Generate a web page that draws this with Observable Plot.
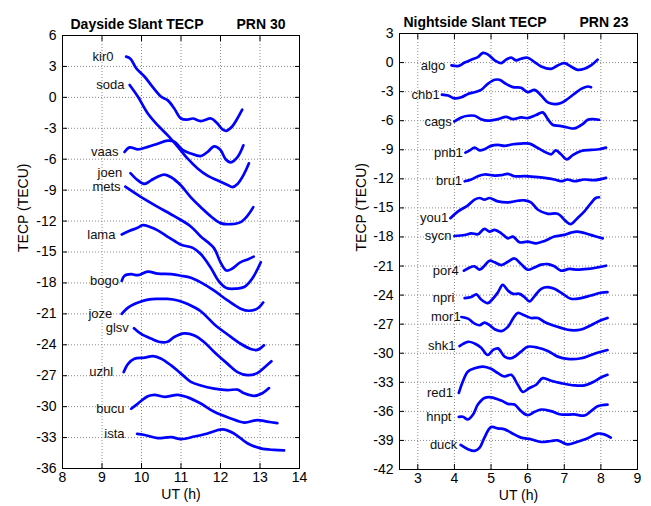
<!DOCTYPE html>
<html><head><meta charset="utf-8">
<script src="https://cdn.jsdelivr.net/npm/d3@7"></script>
<script src="https://cdn.jsdelivr.net/npm/@observablehq/plot@0.6"></script>
<style>
body{margin:0;background:#fff;}
#wrap{display:flex;width:651px;height:506px;}
#wrap svg{display:block;}
</style></head><body><div id="wrap"></div>
<script>
// ---------- Dayside (PRN 30): [UT hours, TECP TECU] ----------
const kir0 = [[9.61,3.95],[9.72,3.75],[9.87,2.8],[10.08,2.0],[10.29,0.97],[10.5,0.06],[10.66,-0.27],[10.83,-1.08],[11.0,-2.05],[11.17,-2.15],[11.3,-2.05],[11.5,-2.3],[11.76,-2.05],[11.9,-2.45],[12.05,-3.1],[12.15,-3.25],[12.3,-2.8],[12.42,-2.1],[12.55,-1.2]];
const soda = [[9.7,1.2],[9.91,0.06],[10.16,-1.56],[10.41,-2.7],[10.66,-3.67],[10.92,-4.8],[11.17,-5.95],[11.42,-6.9],[11.67,-7.6],[11.92,-8.05],[12.18,-8.5],[12.3,-8.7],[12.43,-8.4],[12.6,-7.4],[12.72,-6.4]];
const vaas = [[9.57,-5.3],[9.7,-4.85],[9.91,-5.05],[10.16,-4.8],[10.41,-4.5],[10.66,-4.2],[10.83,-4.3],[11.04,-5.1],[11.25,-5.45],[11.5,-5.7],[11.67,-5.3],[11.84,-4.75],[12.0,-5.1],[12.13,-6.0],[12.26,-6.3],[12.43,-5.8],[12.58,-4.65]];
const joen = [[9.72,-7.35],[9.91,-8.05],[10.08,-8.4],[10.24,-8.05],[10.41,-7.7],[10.58,-7.5],[10.75,-7.75],[11.0,-8.55],[11.25,-9.7],[11.5,-10.65],[11.76,-11.56],[12.0,-12.2],[12.26,-12.3],[12.51,-12.1],[12.68,-11.5],[12.83,-10.65]];
const mets = [[9.59,-8.67],[9.97,-9.63],[10.4,-10.6],[10.82,-11.5],[11.24,-12.5],[11.5,-13.5],[11.83,-14.6],[12.0,-16.0],[12.15,-16.8],[12.3,-16.6],[12.5,-16.0],[12.7,-15.7],[12.84,-15.45]];
const lama = [[9.5,-13.3],[9.7,-12.95],[9.9,-12.65],[10.03,-12.4],[10.2,-12.55],[10.41,-12.9],[10.7,-13.6],[11.0,-14.3],[11.3,-14.6],[11.5,-15.2],[11.75,-16.5],[11.95,-17.8],[12.15,-18.5],[12.4,-18.55],[12.6,-18.4],[12.8,-17.6],[13.02,-16.0]];
const bogo = [[9.5,-17.8],[9.57,-17.3],[9.74,-17.15],[9.91,-17.25],[10.16,-16.9],[10.41,-17.1],[10.75,-17.15],[11.0,-17.3],[11.25,-17.5],[11.5,-17.95],[11.84,-18.75],[12.18,-19.7],[12.51,-20.5],[12.72,-20.7],[12.93,-20.5],[13.08,-19.9]];
const joze = [[9.5,-21.0],[9.66,-20.4],[9.82,-20.05],[9.99,-19.8],[10.2,-19.6],[10.41,-19.55],[10.66,-19.55],[10.92,-19.7],[11.17,-20.05],[11.5,-20.75],[11.84,-22.0],[12.18,-23.0],[12.51,-23.9],[12.76,-24.4],[12.93,-24.5],[13.1,-24.05]];
const glsv = [[9.81,-22.4],[9.99,-22.95],[10.24,-23.4],[10.5,-23.75],[10.66,-23.7],[10.83,-23.25],[11.08,-22.9],[11.34,-23.1],[11.59,-23.75],[11.84,-24.7],[12.18,-25.85],[12.43,-26.65],[12.68,-26.95],[12.93,-26.75],[13.14,-26.1],[13.29,-25.6]];
const uzhl = [[9.55,-26.65],[9.66,-25.85],[9.82,-25.35],[10.08,-25.25],[10.29,-25.1],[10.5,-25.35],[10.75,-26.0],[11.0,-26.8],[11.25,-27.6],[11.5,-27.95],[11.84,-28.25],[12.18,-28.4],[12.43,-28.35],[12.6,-28.7],[12.85,-28.95],[13.06,-28.7],[13.23,-28.2]];
const bucu = [[9.74,-30.2],[9.91,-29.7],[10.16,-29.0],[10.33,-28.85],[10.58,-29.05],[10.92,-28.85],[11.17,-29.1],[11.5,-29.7],[11.84,-30.5],[12.26,-31.15],[12.6,-31.55],[12.93,-31.3],[13.18,-31.45],[13.44,-31.6]];
const ista = [[9.89,-32.65],[10.08,-32.75],[10.41,-33.05],[10.75,-32.95],[11.0,-33.15],[11.34,-32.9],[11.67,-32.6],[12.05,-32.2],[12.34,-32.6],[12.68,-33.55],[13.02,-34.05],[13.35,-34.2],[13.61,-34.25]];

const daySites = ["kir0","soda","vaas","joen","mets","lama","bogo","joze","glsv","uzhl","bucu","ista"];
const daySeries = [kir0,soda,vaas,joen,mets,lama,bogo,joze,glsv,uzhl,bucu,ista];
const dayLabelUT = [9.29,9.57,9.42,9.51,9.47,9.34,9.43,9.26,9.68,9.28,9.57,9.57];
const dayXTicks = [8,9,10,11,12,13,14];
const dayYTicks = [-36,-33,-30,-27,-24,-21,-18,-15,-12,-9,-6,-3,0,3,6];

// ---------- Nightside (PRN 23) ----------
const algo = [[3.92,-0.29],[4.1,-0.36],[4.28,0.0],[4.46,0.3],[4.64,0.57],[4.78,1.0],[4.91,0.85],[5.1,0.23],[5.28,-0.05],[5.41,0.3],[5.55,0.5],[5.69,0.23],[5.82,0.4],[6.0,0.5],[6.19,0.05],[6.37,-0.4],[6.64,-0.65],[6.82,-0.3],[7.0,-0.05],[7.18,-0.4],[7.36,-0.75],[7.55,-0.64],[7.73,-0.3],[7.91,0.3]];
const chb1 = [[3.66,-3.3],[3.83,-3.4],[4.0,-3.69],[4.19,-3.58],[4.37,-3.24],[4.55,-3.06],[4.73,-2.82],[4.91,-2.2],[5.1,-1.78],[5.23,-1.78],[5.41,-2.2],[5.6,-2.54],[5.82,-2.6],[6.0,-3.06],[6.19,-2.82],[6.37,-3.4],[6.55,-4.1],[6.73,-4.28],[6.91,-4.17],[7.09,-3.76],[7.27,-3.24],[7.46,-2.72],[7.64,-2.47],[7.73,-2.54]];
const cags = [[4.0,-6.08],[4.19,-5.66],[4.37,-5.49],[4.55,-5.49],[4.73,-5.84],[4.91,-6.0],[5.19,-5.84],[5.41,-5.6],[5.6,-5.84],[5.82,-5.66],[6.0,-5.73],[6.23,-5.42],[6.41,-5.14],[6.55,-5.84],[6.68,-6.42],[6.87,-6.53],[7.09,-6.7],[7.27,-6.8],[7.5,-6.35],[7.64,-5.9],[7.77,-5.84],[7.95,-5.9]];
const pnb1 = [[4.3,-9.3],[4.42,-9.06],[4.55,-8.78],[4.69,-9.06],[4.82,-8.95],[5.0,-8.6],[5.19,-8.5],[5.37,-8.6],[5.6,-8.43],[5.82,-8.36],[6.05,-8.36],[6.23,-8.71],[6.46,-9.2],[6.64,-9.47],[6.77,-9.06],[6.91,-9.47],[7.07,-10.0],[7.23,-9.55],[7.46,-9.13],[7.73,-9.02],[7.95,-8.95],[8.14,-8.78]];
const bru1 = [[4.28,-12.25],[4.46,-12.07],[4.64,-11.73],[4.82,-11.55],[5.1,-11.66],[5.28,-11.62],[5.46,-11.48],[5.64,-11.73],[5.91,-11.73],[6.19,-11.8],[6.46,-11.9],[6.73,-12.07],[6.91,-12.25],[7.09,-12.07],[7.27,-12.25],[7.55,-12.07],[7.82,-12.14],[8.14,-11.9]];
const you1 = [[3.89,-16.06],[4.1,-15.36],[4.37,-14.74],[4.55,-14.15],[4.69,-13.98],[4.82,-14.15],[4.96,-13.98],[5.19,-14.33],[5.46,-14.43],[5.73,-14.26],[5.91,-14.22],[6.09,-14.43],[6.28,-15.19],[6.55,-15.61],[6.82,-15.61],[7.05,-16.4],[7.18,-16.68],[7.36,-16.06],[7.55,-15.36],[7.73,-14.5],[7.86,-13.98],[7.95,-13.9]];
const sycn = [[4.0,-17.9],[4.28,-17.8],[4.46,-17.62],[4.64,-17.72],[4.82,-17.17],[4.96,-17.44],[5.1,-17.27],[5.28,-17.62],[5.46,-18.14],[5.6,-17.96],[5.78,-18.55],[6.0,-18.48],[6.23,-18.66],[6.46,-18.41],[6.73,-17.96],[7.0,-17.79],[7.18,-17.55],[7.36,-17.44],[7.64,-17.69],[7.82,-17.9],[8.05,-18.14]];
const por4 = [[4.26,-21.48],[4.42,-21.14],[4.55,-21.03],[4.69,-21.38],[4.82,-20.97],[4.96,-20.45],[5.1,-20.62],[5.28,-20.9],[5.46,-20.56],[5.64,-20.22],[5.82,-20.8],[6.0,-21.38],[6.19,-21.14],[6.37,-20.86],[6.55,-20.8],[6.73,-21.03],[6.91,-21.48],[7.14,-21.3],[7.36,-21.38],[7.64,-21.3],[7.91,-21.14],[8.14,-20.97]];
const npri = [[4.28,-24.31],[4.46,-24.2],[4.6,-23.93],[4.73,-24.45],[4.91,-24.82],[5.05,-24.38],[5.19,-23.7],[5.32,-22.95],[5.46,-23.53],[5.6,-23.87],[5.78,-23.87],[5.91,-24.2],[6.05,-24.65],[6.19,-24.1],[6.37,-23.35],[6.55,-23.18],[6.73,-23.35],[6.96,-23.87],[7.18,-24.38],[7.46,-24.31],[7.73,-24.04],[8.0,-23.76],[8.18,-23.7]];
const mor1 = [[4.19,-26.26],[4.37,-26.43],[4.55,-26.94],[4.69,-27.11],[4.82,-26.84],[4.96,-27.11],[5.1,-27.52],[5.28,-27.72],[5.46,-27.28],[5.6,-26.43],[5.73,-25.85],[5.91,-26.09],[6.09,-26.36],[6.28,-26.36],[6.46,-26.77],[6.68,-27.11],[6.91,-27.38],[7.18,-27.62],[7.46,-27.55],[7.73,-27.11],[8.0,-26.6],[8.18,-26.36]];
const shk1 = [[4.14,-29.26],[4.37,-28.82],[4.55,-28.99],[4.73,-29.43],[4.91,-30.18],[5.05,-29.67],[5.19,-29.5],[5.37,-30.35],[5.55,-30.52],[5.82,-29.84],[6.0,-29.33],[6.28,-29.43],[6.55,-29.77],[6.82,-30.35],[7.09,-30.59],[7.46,-30.52],[7.73,-30.18],[8.0,-29.84],[8.18,-29.67]];
const red1 = [[4.12,-34.1],[4.23,-32.91],[4.37,-31.89],[4.55,-31.55],[4.78,-31.38],[5.0,-31.61],[5.19,-32.06],[5.37,-32.4],[5.55,-32.23],[5.73,-33.25],[5.87,-34.0],[6.05,-33.59],[6.23,-33.25],[6.41,-32.57],[6.64,-32.84],[6.91,-33.08],[7.27,-33.32],[7.55,-33.32],[7.82,-32.91],[8.0,-32.5],[8.18,-32.23]];
const hnpt = [[4.12,-36.56],[4.23,-36.56],[4.37,-36.84],[4.51,-36.32],[4.64,-35.3],[4.82,-34.62],[5.0,-34.55],[5.28,-34.89],[5.46,-35.23],[5.64,-35.3],[5.82,-35.98],[6.0,-36.39],[6.19,-36.05],[6.37,-35.81],[6.64,-35.98],[6.91,-36.32],[7.27,-36.32],[7.55,-36.43],[7.73,-35.98],[7.91,-35.47],[8.18,-35.3]];
const duck = [[4.17,-39.46],[4.37,-39.9],[4.55,-40.08],[4.69,-39.74],[4.82,-38.71],[5.0,-37.62],[5.19,-37.76],[5.37,-37.86],[5.55,-38.2],[5.82,-38.71],[6.09,-38.88],[6.37,-39.16],[6.64,-39.06],[6.82,-38.99],[7.09,-39.4],[7.36,-39.13],[7.64,-38.78],[7.91,-38.3],[8.09,-38.37],[8.27,-38.71]];

const nightSites = ["algo","chb1","cags","pnb1","bru1","you1","sycn","por4","npri","mor1","shk1","red1","hnpt","duck"];
const nightSeries = [algo,chb1,cags,pnb1,bru1,you1,sycn,por4,npri,mor1,shk1,red1,hnpt,duck];
const nightLabelUT = [3.75,3.6,3.93,4.23,4.21,3.83,3.92,4.12,4.0,4.17,4.03,3.96,3.92,4.08];
const nightXTicks = [3,4,5,6,7,8,9];
const nightYTicks = [-42,-39,-36,-33,-30,-27,-24,-21,-18,-15,-12,-9,-6,-3,0,3];

const FONT = "'Liberation Sans', Arial, Helvetica, sans-serif";

function panel(o) {
  const rows = [];
  o.sites.forEach((s, i) => o.series[i].forEach(([t, v]) => rows.push({site: s, t, v})));
  const labels = o.sites.map((s, i) => ({site: s, t: o.labelUT[i], v: o.series[i][0][1]}));
  const fmt = d => String(d);
  const blank = () => "";
  const grid = {stroke: "#8a8a8a", strokeOpacity: 1, strokeDasharray: "1,2", strokeWidth: 1};
  return Plot.plot({
    width: o.width, height: 506,
    marginLeft: o.ml, marginRight: o.mr, marginTop: o.mt, marginBottom: o.mb,
    style: {fontFamily: FONT, fontSize: "14px", color: "#000", background: "#fff"},
    x: {domain: o.xDomain},
    y: {domain: o.yDomain},
    marks: [
      Plot.gridX(o.xTicks, grid),
      Plot.gridY(o.yTicks, grid),
      Plot.line(rows, {x: "t", y: "v", z: "site", stroke: "#0000ff", strokeWidth: 2.7, curve: "catmull-rom"}),
      Plot.text(labels, {x: "t", y: "v", text: "site", textAnchor: "end", fontSize: 13, fill: "#111"}),
      Plot.frame({stroke: "#000", strokeWidth: 1}),
      Plot.axisX(o.xTicks, {anchor: "bottom", tickSize: -5, tickPadding: 9, tickFormat: fmt, label: null, fontSize: 14}),
      Plot.axisX(o.xTicks, {anchor: "top", tickSize: -5, tickFormat: blank, label: null}),
      Plot.axisY(o.yTicks, {anchor: "left", tickSize: -5, tickPadding: 11, tickFormat: fmt, label: null, fontSize: 14}),
      Plot.axisY(o.yTicks, {anchor: "right", tickSize: -5, tickFormat: blank, label: null}),
      Plot.text([o.title], {text: d => d, frameAnchor: "top-left", textAnchor: "start", dx: o.titleDx, dy: -16, fontWeight: "bold", fontSize: 14}),
      Plot.text([o.prn], {text: d => d, frameAnchor: "top-left", textAnchor: "start", dx: o.prnDx, dy: -16, fontWeight: "bold", fontSize: 14}),
      Plot.text(["UT (h)"], {text: d => d, frameAnchor: "bottom", dy: 30, fontSize: 14}),
      Plot.text(["TECP (TECU)"], {text: d => d, frameAnchor: "left", rotate: -90, dx: o.ylabDx, fontSize: 14})
    ]
  });
}

const wrap = document.getElementById("wrap");
wrap.appendChild(panel({
  sites: daySites, series: daySeries, labelUT: dayLabelUT,
  xDomain: [8, 14], yDomain: [-36, 6], xTicks: dayXTicks, yTicks: dayYTicks,
  title: "Dayside Slant TECP", prn: "PRN 30", titleDx: 8, prnDx: 174, ylabDx: -39,
  width: 325, ml: 62, mr: 26, mt: 35, mb: 38
}));
wrap.appendChild(panel({
  sites: nightSites, series: nightSeries, labelUT: nightLabelUT,
  xDomain: [2.5, 9], yDomain: [-42, 3], xTicks: nightXTicks, yTicks: nightYTicks,
  title: "Nightside Slant TECP", prn: "PRN 23", titleDx: 4, prnDx: 180, ylabDx: -38,
  width: 326, ml: 74, mr: 14, mt: 33, mb: 37
}));
</script></body></html>
